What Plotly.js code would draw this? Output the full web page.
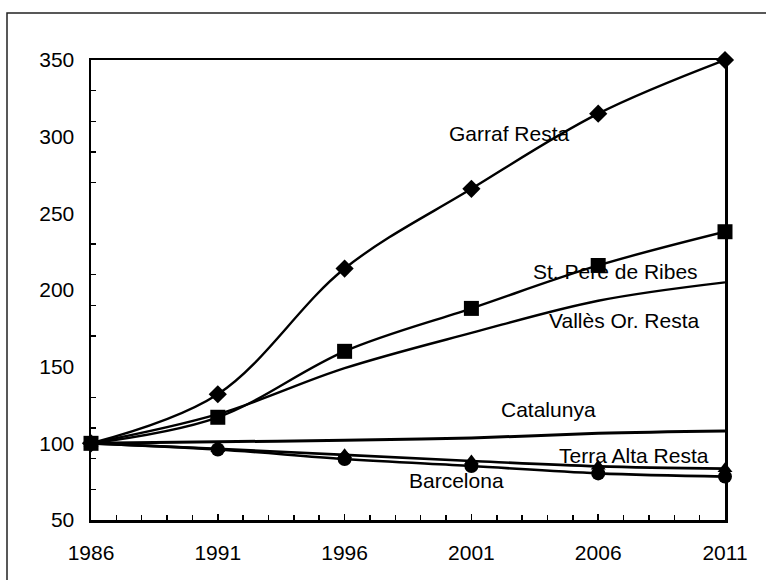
<!DOCTYPE html>
<html>
<head>
<meta charset="utf-8">
<script src="https://cdn.plot.ly/plotly-3.0.1.min.js"></script>
<style>
html,body{margin:0;padding:0;background:#fff;}
#chart{width:766px;height:580px;}
</style>
</head>
<body>
<div id="chart"></div>
<script>
const years = [1986, 1991, 1996, 2001, 2006, 2011];
const garrafResta = [100, 132, 214, 266, 315, 350];
const stPereDeRibes = [100, 117, 160, 188, 216, 238];
const vallesOrResta = [100, 119, 149, 172, 193, 205];
const catalunya = [100, 101, 102, 103.5, 106.5, 108];
const terraAltaResta = [100, 96.5, 92.5, 88.5, 85, 83.5];
const barcelona = [100, 96, 89.8, 85.2, 80.4, 78.3];

const labelNames = ["Garraf Resta", "St. Pere de Ribes", "Vallès Or. Resta", "Catalunya", "Terra Alta Resta", "Barcelona"];
const labelX = [2002.5, 2006.7, 2007.0, 2004.05, 2007.4, 2000.4];
const labelY = [302, 212, 180, 122, 92, 76];

const FONT = "Liberation Sans, Arial, sans-serif";

function tr(y, name, symbol, size, width) {
  const t = {
    x: years, y: y, name: name, type: 'scatter',
    mode: symbol ? 'lines+markers' : 'lines',
    line: {color: '#000', width: width, shape: 'spline', smoothing: 1},
    cliponaxis: false
  };
  if (symbol) t.marker = {symbol: symbol, size: size, color: '#000'};
  return t;
}

const data = [
  tr(catalunya, 'Catalunya', null, 0, 3),
  tr(vallesOrResta, 'Vallès Or. Resta', null, 0, 2.4),
  tr(terraAltaResta, 'Terra Alta Resta', 'triangle-up', 13, 2.6),
  tr(barcelona, 'Barcelona', 'circle', 14, 2.6),
  tr(stPereDeRibes, 'St. Pere de Ribes', 'square', 15, 2.4),
  tr(garrafResta, 'Garraf Resta', 'diamond', 14, 2.4)
];

const annotations = labelNames.map((n, i) => ({
  x: labelX[i], y: labelY[i], xref: 'x', yref: 'y', text: n, showarrow: false,
  font: {family: FONT, size: 21, color: '#000'}, xanchor: 'center', yanchor: 'middle'
}));

const layout = {
  width: 766, height: 580,
  margin: {l: 91, r: 41, t: 60, b: 60},
  paper_bgcolor: '#fff', plot_bgcolor: '#fff',
  showlegend: false,
  font: {family: FONT, size: 21, color: '#000'},
  xaxis: {
    range: [1986, 2011], tickmode: 'linear', tick0: 1986, dtick: 5,
    ticks: 'inside', ticklen: 6, tickwidth: 1.5, tickcolor: '#000',
    minor: {dtick: 1, tick0: 1986, ticks: 'inside', ticklen: 5, tickwidth: 1.5, tickcolor: '#000'},
    showgrid: false, zeroline: false,
    showline: true, linecolor: '#000', linewidth: 2.5, mirror: true,
    ticklabelstandoff: 12,
    tickfont: {family: FONT, size: 21, color: '#000'}
  },
  yaxis: {
    range: [50, 350], tickmode: 'linear', tick0: 50, dtick: 50,
    ticks: '',
    minor: {dtick: 20, tick0: 50, ticks: 'inside', ticklen: 5, tickwidth: 1.5, tickcolor: '#000'},
    showgrid: false, zeroline: false,
    showline: true, linecolor: '#000', linewidth: 2.5, mirror: true,
    ticklabelstandoff: 10,
    tickfont: {family: FONT, size: 21, color: '#000'}
  },
  shapes: [{
    type: 'rect', xref: 'paper', yref: 'paper',
    x0: (7 - 91) / 634, x1: 1.5, y0: -0.5, y1: (520 - 13) / 460,
    line: {color: '#222', width: 1.5}, fillcolor: 'rgba(0,0,0,0)', layer: 'below'
  }],
  annotations: annotations
};

Plotly.newPlot('chart', data, layout, {displayModeBar: false, staticPlot: true});
</script>
</body>
</html>
